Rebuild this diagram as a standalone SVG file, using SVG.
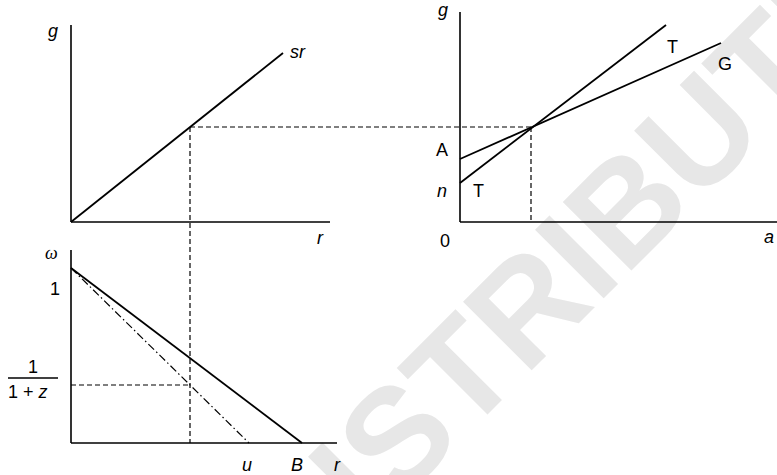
<svg xmlns="http://www.w3.org/2000/svg" width="777" height="475" viewBox="0 0 777 475">
<style>
.ax{stroke:#000;stroke-width:1.6;fill:none}
.ln{stroke:#000;stroke-width:1.8;fill:none}
.ds{stroke:#000;stroke-width:1.2;fill:none;stroke-dasharray:5,3}
.dd{stroke:#000;stroke-width:1.2;fill:none;stroke-dasharray:8,3,1.5,3}
text{font-family:"Liberation Sans",Arial,sans-serif;font-size:18px;fill:#000}
.it{font-style:italic}
.wm{font-family:"Liberation Sans",Arial,sans-serif;font-weight:bold;font-size:141px;fill:#e7e7e7}
</style>
<rect width="777" height="475" fill="#fff"/>
<g id="watermark">
<text class="wm" transform="translate(298,604) rotate(-45)">DISTRIBUTION</text>
</g>
<g id="panel-top-left">
<line class="ax" x1="71" y1="25" x2="71" y2="222"/>
<line class="ax" x1="71" y1="222" x2="330" y2="222"/>
<line class="ln" x1="71" y1="222" x2="283" y2="53"/>
<text class="it" x="48" y="37">g</text>
<text class="it" x="290" y="58">sr</text>
<text class="it" x="317" y="244">r</text>
</g>
<g id="panel-top-right">
<line class="ax" x1="460" y1="12" x2="460" y2="222"/>
<line class="ax" x1="460" y1="222" x2="777" y2="222"/>
<line class="ln" x1="460" y1="183" x2="666" y2="25"/>
<line class="ln" x1="460" y1="159" x2="721" y2="43"/>
<text class="it" x="438" y="16">g</text>
<text x="667" y="53">T</text>
<text x="718" y="70">G</text>
<text x="436" y="156">A</text>
<text class="it" x="437" y="197">n</text>
<text x="473" y="197">T</text>
<text x="440" y="247">0</text>
<text class="it" x="764" y="243">a</text>
</g>
<g id="panel-bottom">
<line class="ax" x1="71" y1="250" x2="71" y2="443"/>
<line class="ax" x1="71" y1="443" x2="337" y2="443"/>
<line class="ln" x1="71" y1="268" x2="302" y2="443"/>
<line class="dd" x1="71" y1="268" x2="249" y2="443"/>
<text style="font-family:'Liberation Serif','Times New Roman',serif;font-style:italic" x="45" y="259">ω</text>
<text x="50" y="295">1</text>
<text x="28" y="373">1</text>
<line x1="8" y1="378" x2="58" y2="378" stroke="#000" stroke-width="1.3"/>
<text x="8" y="398">1 + <tspan class="it">z</tspan></text>
<text class="it" x="242" y="471">u</text>
<text class="it" x="291" y="471">B</text>
<text class="it" x="334" y="471">r</text>
</g>
<g id="connectors">
<line class="ds" x1="190" y1="127" x2="531" y2="127"/>
<line class="ds" x1="190" y1="127" x2="190" y2="443"/>
<line class="ds" x1="531" y1="127" x2="531" y2="222"/>
<line class="ds" x1="71" y1="385" x2="190" y2="385"/>
</g>
</svg>
